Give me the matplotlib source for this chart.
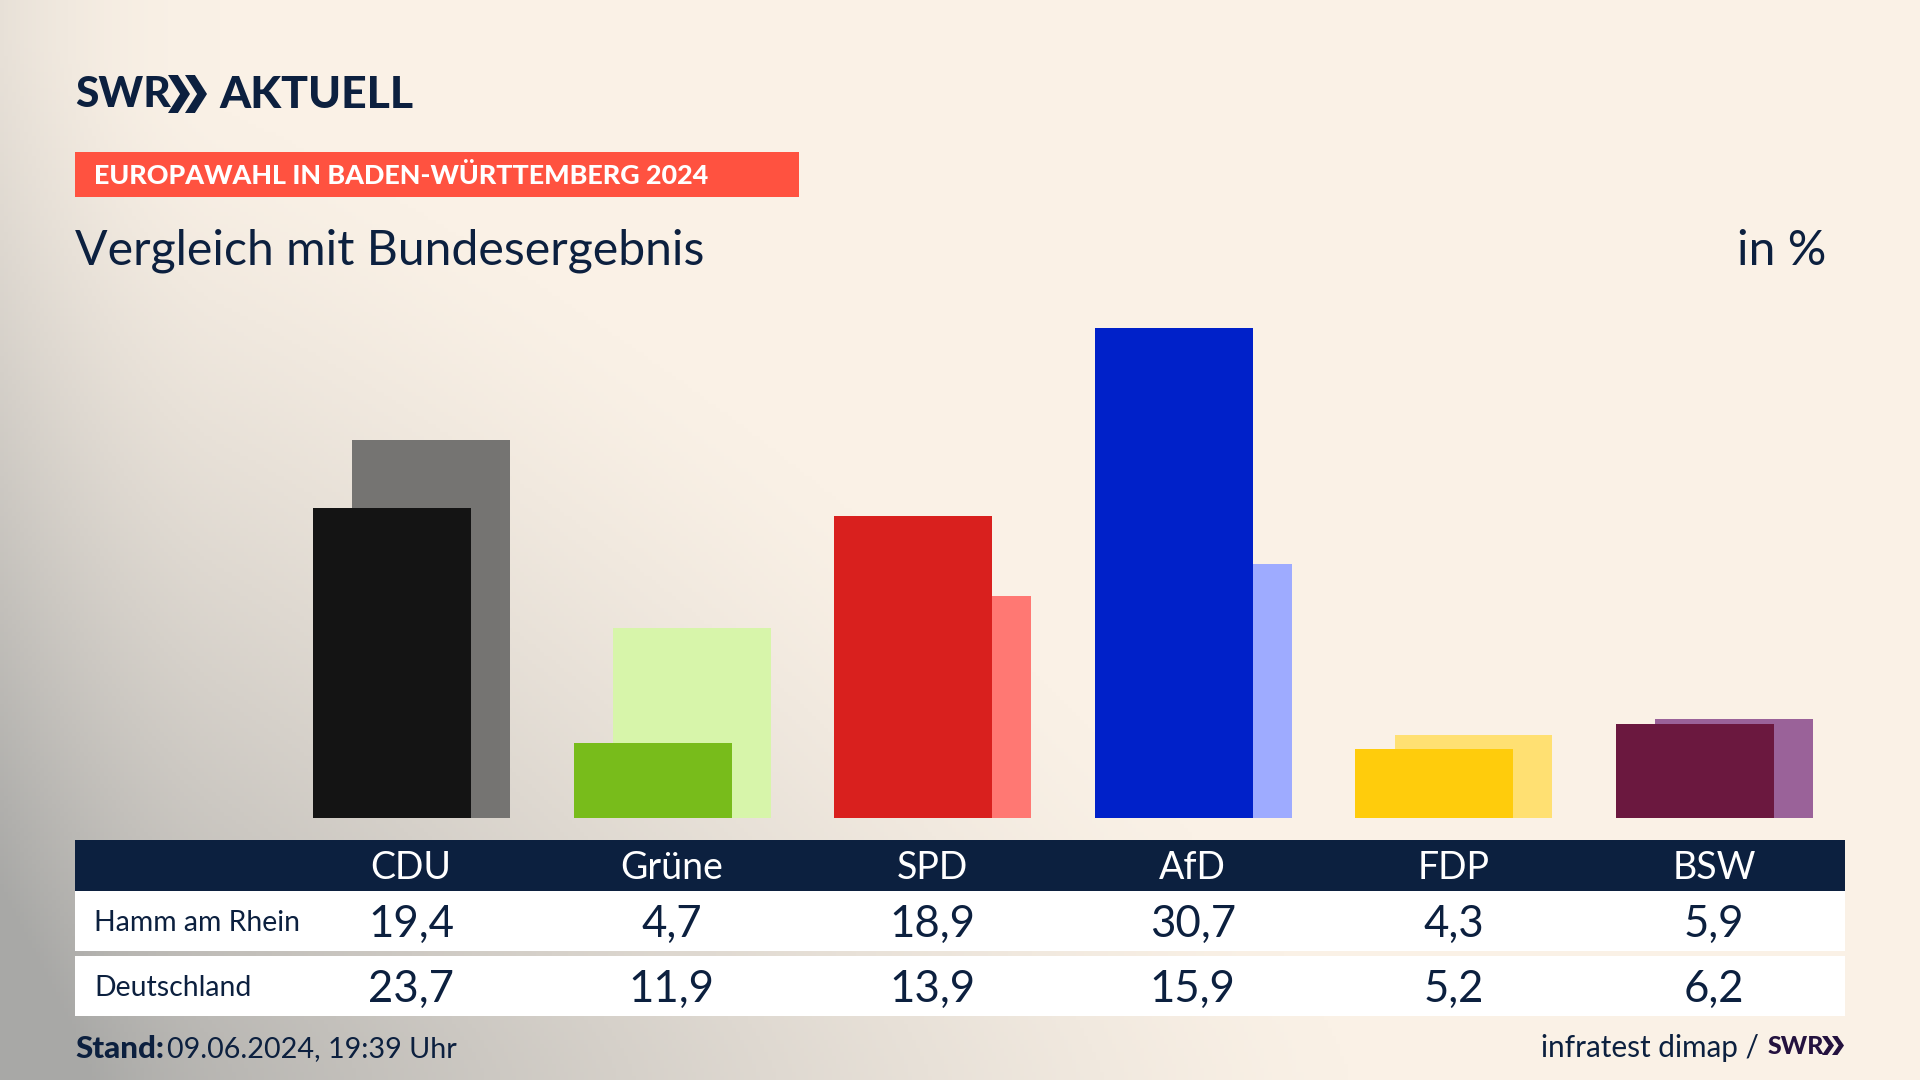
import numpy as np
import matplotlib
matplotlib.use('Agg')
import matplotlib.pyplot as plt
from matplotlib.patches import Rectangle, Polygon

parties = ['CDU', 'Grüne', 'SPD', 'AfD', 'FDP', 'BSW']
hamm = [19.4, 4.7, 18.9, 30.7, 4.3, 5.9]
deutschland = [23.7, 11.9, 13.9, 15.9, 5.2, 6.2]
hamm_colors = ['#141414', '#78BC1B', '#D9201E', '#0021C9', '#FFCC0C', '#6B183F']
deutschland_colors = ['#757472', '#D7F5AA', '#FF7873', '#9EABFF', '#FFE072', '#9A6299']
row_labels = ['Hamm am Rhein', 'Deutschland']

NAVY = '#0C203F'
W, H = 1920, 1080
plt.rcParams['font.family'] = ['Lato', 'DejaVu Sans']

fig = plt.figure(figsize=(19.2, 10.8), dpi=100)

# page background, pixel coordinates
bg = fig.add_axes([0, 0, 1, 1])
bg.set_xlim(0, W)
bg.set_ylim(H, 0)
bg.axis('off')
yy, xx = np.mgrid[0:H:270j, 0:W:480j]
p = 1.3
d = ((xx / 1350.0) ** p + ((H - yy) / 1050.0) ** p) ** (1 / p)
t = np.clip(1 - d, 0, 1) ** 1.3
edge = np.clip(1 - xx / 220.0, 0, 1) ** 2 * 0.22
t = np.clip(t + edge, 0, 1)
cream = np.array([250, 241, 230]) / 255
gray = np.array([168, 168, 166]) / 255
img = cream[None, None, :] * (1 - t[..., None]) + gray[None, None, :] * t[..., None]
bg.imshow(img, extent=(0, W, H, 0), aspect='auto', zorder=0)

# bars, baseline at y=818 and 30.7 % up at y=328
ax = fig.add_axes([0, (H - 818) / H, 1, 490 / H])
ax.patch.set_alpha(0)
ax.axis('off')
step = 260.6
ax.set_xlim(-411 / step, (W - 411) / step)
ax.set_ylim(0, 30.7)
x = np.arange(len(parties))
ax.bar(x + 0.077, deutschland, width=0.606, color=deutschland_colors, zorder=2)
ax.bar(x - 0.073, hamm, width=0.606, color=hamm_colors, zorder=3)

# overlay for table and text
ov = fig.add_axes([0, 0, 1, 1])
ov.patch.set_alpha(0)
ov.set_xlim(0, W)
ov.set_ylim(H, 0)
ov.axis('off')

def chevrons(x0, y0, y1, w, gap, color):
    mid = (y0 + y1) / 2
    for k in range(2):
        xs = x0 + k * gap
        ov.add_patch(Polygon([(xs, y0), (xs + w * 0.45, y0), (xs + w, mid), (xs + w * 0.45, y1),
                              (xs, y1), (xs + w * 0.55, mid)], color=color, lw=0))

ov.text(75, 95, 'SWR', fontsize=30.5, fontweight='black', color=NAVY, va='center', ha='left')
chevrons(168, 75, 113, 22, 17, NAVY)
ov.text(219, 95, 'AKTUELL', fontsize=32, fontweight='black', color=NAVY, va='center', ha='left')

ov.add_patch(Rectangle((75, 152), 724, 45, color='#FF5240', lw=0))
ov.text(94, 176, 'EUROPAWAHL IN BADEN-WÜRTTEMBERG 2024', fontsize=19.4, fontweight='black',
        color='white', va='center', ha='left')

ov.text(75, 251, 'Vergleich mit Bundesergebnis', fontsize=34.7, color=NAVY, va='center', ha='left')
ov.text(1826, 251, 'in %', fontsize=34.7, color=NAVY, va='center', ha='right')

ov.add_patch(Rectangle((75, 840), 1770, 51, color=NAVY, lw=0))
ov.add_patch(Rectangle((75, 891), 1770, 60, color='white', lw=0))
ov.add_patch(Rectangle((75, 956), 1770, 60, color='white', lw=0))

centers = 411 + step * x
for cx, name, a, b in zip(centers, parties, hamm, deutschland):
    ov.text(cx, 868, name, fontsize=27, color='white', va='center', ha='center')
    ov.text(cx, 924, f'{a:.1f}'.replace('.', ','), fontsize=31.5, color=NAVY, va='center', ha='center')
    ov.text(cx, 989, f'{b:.1f}'.replace('.', ','), fontsize=31.5, color=NAVY, va='center', ha='center')
ov.text(94, 923, row_labels[0], fontsize=20.4, color=NAVY, va='center', ha='left')
ov.text(94, 988, row_labels[1], fontsize=20.4, color=NAVY, va='center', ha='left')

ov.text(75, 1049, 'Stand:', fontsize=22.6, fontweight='black', color=NAVY, va='center', ha='left')
ov.text(167, 1049, '09.06.2024, 19:39 Uhr', fontsize=20.7, color=NAVY, va='center', ha='left')

ov.text(1759, 1048, 'infratest dimap /', fontsize=21.4, color=NAVY, va='center', ha='right')
ov.text(1768, 1046, 'SWR', fontsize=18, fontweight='black', color='#24123F', va='center', ha='left')
chevrons(1822, 1036, 1055, 12, 10, '#24123F')

fig.savefig('out.png', dpi=100)
